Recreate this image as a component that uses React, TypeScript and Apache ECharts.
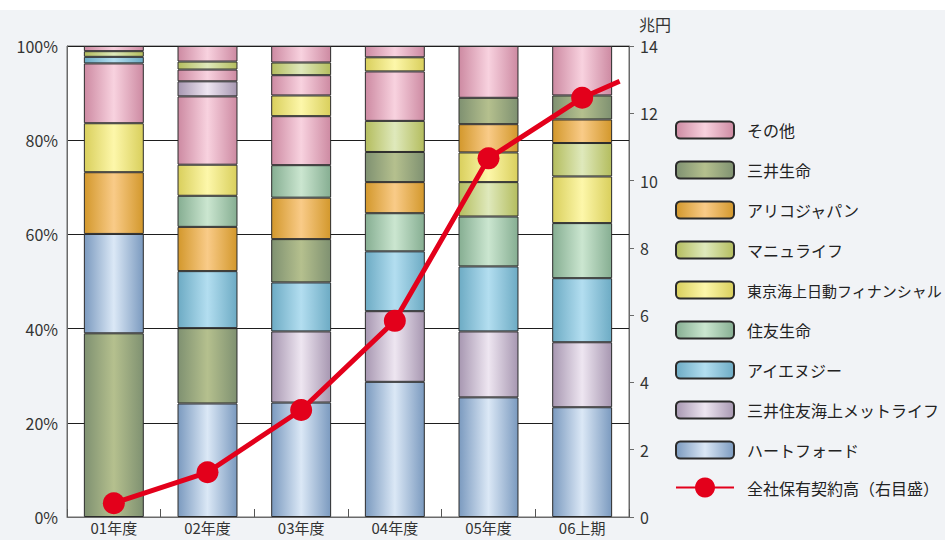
import React, { useEffect, useRef } from 'react';
import * as echarts from 'echarts';

const categories = ['01年度', '02年度', '03年度', '04年度', '05年度', '06上期'];

// legend order, top to bottom
const companies = [
  'その他',
  '三井生命',
  'アリコジャパン',
  'マニュライフ',
  '東京海上日動フィナンシャル',
  '住友生命',
  'アイエヌジー',
  '三井住友海上メットライフ',
  'ハートフォード',
];

// cylinder shading: darker at the bar edges, lighter at the centre
const edgeColors = ['#cd8aa2', '#7f9171', '#d3982c', '#b4bd5e', '#d9cf5c', '#86ae92', '#6dabc4', '#a797b1', '#7b9abf'];
const centerColors = ['#f8d2df', '#b5c08e', '#f9cb88', '#dfe9bc', '#fdf7aa', '#cbe6d0', '#b3def0', '#eee6f1', '#dbe8f6'];

// share of each company (%), stacked bottom → top, per period
const stack01: [string, number][] = [
  ['三井生命', 39.0], ['ハートフォード', 21.1], ['アリコジャパン', 13.1], ['東京海上日動フィナンシャル', 10.4],
  ['その他', 12.7], ['アイエヌジー', 1.4], ['マニュライフ', 1.2], ['その他', 1.1],
];
const stack02: [string, number][] = [
  ['ハートフォード', 24.1], ['三井生命', 16.0], ['アイエヌジー', 12.1], ['アリコジャパン', 9.4], ['住友生命', 6.6],
  ['東京海上日動フィナンシャル', 6.6], ['その他', 14.5], ['三井住友海上メットライフ', 3.2], ['その他', 2.5],
  ['マニュライフ', 1.7], ['その他', 3.3],
];
const stack03: [string, number][] = [
  ['ハートフォード', 24.3], ['三井住友海上メットライフ', 15.1], ['アイエヌジー', 10.4], ['三井生命', 9.2],
  ['アリコジャパン', 8.8], ['住友生命', 6.9], ['その他', 10.4], ['東京海上日動フィナンシャル', 4.4], ['その他', 4.3],
  ['マニュライフ', 2.7], ['その他', 3.5],
];
const stack04: [string, number][] = [
  ['ハートフォード', 28.7], ['三井住友海上メットライフ', 15.0], ['アイエヌジー', 12.7], ['住友生命', 8.1],
  ['アリコジャパン', 6.6], ['三井生命', 6.4], ['マニュライフ', 6.6], ['その他', 10.5],
  ['東京海上日動フィナンシャル', 3.0], ['その他', 2.4],
];
const stack05: [string, number][] = [
  ['ハートフォード', 25.4], ['三井住友海上メットライフ', 14.0], ['アイエヌジー', 13.8], ['住友生命', 10.6],
  ['マニュライフ', 7.3], ['東京海上日動フィナンシャル', 6.3], ['アリコジャパン', 6.0], ['三井生命', 5.6], ['その他', 11.0],
];
const stack06: [string, number][] = [
  ['ハートフォード', 23.3], ['三井住友海上メットライフ', 13.8], ['アイエヌジー', 13.6], ['住友生命', 11.7],
  ['東京海上日動フィナンシャル', 9.9], ['マニュライフ', 7.1], ['アリコジャパン', 5.0], ['三井生命', 5.1], ['その他', 10.5],
];
const stacks = [stack01, stack02, stack03, stack04, stack05, stack06];

// 全社保有契約高 (兆円), one value per period, plus the trend running on past the last period
const lineName = '全社保有契約高（右目盛）';
const totalContracts = [0.41, 1.33, 3.18, 5.83, 10.66, 12.46];
const trendTail: [number, number] = [5.9, 12.95];

const leftTicks = { min: 0, max: 100, interval: 20 };
const rightTicks = { min: 0, max: 14, interval: 2 };

const FONT = "'Noto Sans CJK JP', 'Noto Sans', sans-serif";
const RED = '#e3001b';

function gradientFor(name: string) {
  const i = companies.indexOf(name);
  return new echarts.graphic.LinearGradient(0, 0, 1, 0, [
    { offset: 0, color: edgeColors[i] },
    { offset: 0.5, color: centerColors[i] },
    { offset: 1, color: edgeColors[i] },
  ]);
}

function buildOption(): echarts.EChartsOption {
  const barSeries: any[] = [];
  stacks.forEach((segments, catIdx) => {
    segments.forEach(([name, value]) => {
      barSeries.push({
        name,
        type: 'bar',
        stack: 'share',
        barWidth: '64%',
        xAxisIndex: 0,
        yAxisIndex: 0,
        data: categories.map((_, k) => (k === catIdx ? value : '-')),
        itemStyle: { color: gradientFor(name), borderColor: '#2b2b2b', borderWidth: 1 },
        emphasis: { disabled: true },
      });
    });
  });

  const lineData: any[] = totalContracts.map((v, i) => [i + 0.5, v]);
  lineData.push({ value: trendTail, symbol: 'none' });

  // the longest name gets a slightly smaller font so it stays inside the chart
  const legendItems = companies.map((name) =>
    name.length > 12 ? { name, textStyle: { fontSize: 15 } } : { name }
  );

  return {
    animation: false,
    backgroundColor: 'transparent',
    textStyle: { fontFamily: FONT },
    grid: {
      left: 67,
      right: 316,
      top: 46,
      bottom: 23,
      show: true,
      backgroundColor: '#ffffff',
      borderColor: '#6a6a6a',
      borderWidth: 1,
    },
    legend: [
      {
        data: legendItems,
        orient: 'vertical',
        left: 675,
        top: 120.5,
        padding: 0,
        itemWidth: 58,
        itemHeight: 17,
        itemGap: 21,
        selectedMode: false,
        textStyle: { fontFamily: FONT, fontSize: 16, color: '#222', padding: [0, 0, 0, 8] },
      },
      {
        data: [lineName],
        orient: 'vertical',
        left: 675,
        top: 477.5,
        padding: 0,
        itemWidth: 58,
        itemHeight: 25,
        selectedMode: false,
        textStyle: { fontFamily: FONT, fontSize: 16, color: '#222', padding: [0, 0, 0, 8] },
      },
    ],
    xAxis: [
      {
        type: 'category',
        data: categories,
        axisLine: { show: true, lineStyle: { color: '#6a6a6a' } },
        axisTick: { show: true, inside: true, length: 8, lineStyle: { color: '#555' } },
        axisLabel: { fontFamily: FONT, fontSize: 15, color: '#333', margin: 3 },
      },
      {
        type: 'value',
        min: 0,
        max: categories.length,
        show: false,
      },
    ],
    yAxis: [
      {
        type: 'value',
        ...leftTicks,
        axisLine: { show: true, lineStyle: { color: '#6a6a6a' } },
        axisTick: { show: false },
        axisLabel: { formatter: '{value}%', fontFamily: FONT, fontSize: 16, color: '#333', margin: 9 },
        splitLine: { show: true, lineStyle: { color: '#1e1e1e', width: 1 } },
      },
      {
        type: 'value',
        position: 'right',
        ...rightTicks,
        name: '兆円',
        nameLocation: 'end',
        nameGap: 14,
        nameTextStyle: { fontFamily: FONT, fontSize: 16, color: '#333', align: 'left', padding: [0, 0, 0, 10] },
        axisLine: { show: true, lineStyle: { color: '#6a6a6a' } },
        axisTick: { show: true, inside: false, length: 5, lineStyle: { color: '#6a6a6a' } },
        axisLabel: { fontFamily: FONT, fontSize: 16, color: '#333', margin: 11 },
        splitLine: { show: false },
      },
    ],
    series: [
      ...barSeries,
      {
        name: lineName,
        type: 'line',
        xAxisIndex: 1,
        yAxisIndex: 1,
        data: lineData,
        symbol: 'circle',
        symbolSize: 22,
        lineStyle: { color: RED, width: 5 },
        itemStyle: { color: RED },
        z: 10,
        emphasis: { disabled: true },
      },
    ],
  };
}

export default function App() {
  const ref = useRef<HTMLDivElement>(null);

  useEffect(() => {
    if (!ref.current) return;
    const chart = echarts.init(ref.current, null, { renderer: 'svg' });
    chart.setOption(buildOption());
    return () => chart.dispose();
  }, []);

  return (
    <div
      ref={ref}
      style={{
        position: 'fixed',
        left: 0,
        top: 0,
        width: 945,
        height: 540,
        background: 'linear-gradient(#ffffff 0px, #ffffff 10px, #f1f3f6 10px)',
      }}
    />
  );
}
